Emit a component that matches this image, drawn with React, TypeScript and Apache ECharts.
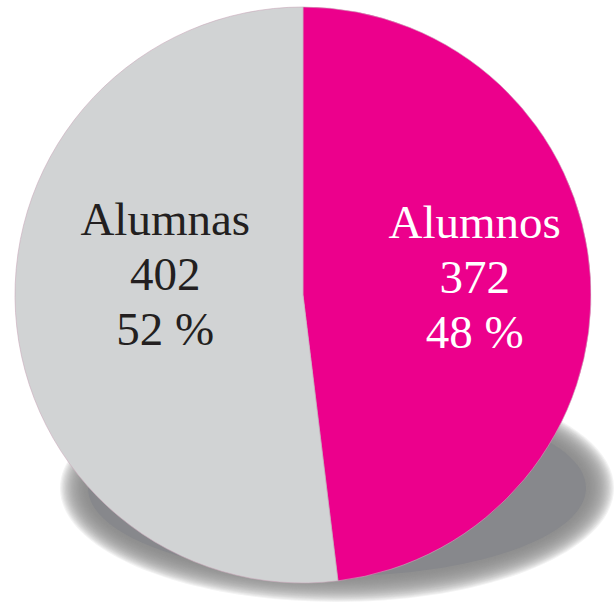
import React, { useEffect, useRef } from "react";
import * as echarts from "echarts";

const categories = ["Alumnos", "Alumnas"];
const values = [372, 402];
const colors = ["#EC008C", "#D1D3D4"];
const labelColors = ["#ffffff", "#231f20"];

export default function App() {
  const ref = useRef<HTMLDivElement>(null);
  useEffect(() => {
    document.body.style.margin = "0";
    const chart = echarts.init(ref.current!, null, { renderer: "svg" });
    const offsets = [
      [25, -9],
      [9, -30],
    ];
    const layers = [];
    const n = 24;
    for (let i = 0; i < n; i++) {
      const t = i / (n - 1);
      layers.push({
        type: "ellipse",
        z: 0,
        silent: true,
        shape: { cx: 337, cy: 488, rx: 277 - 28 * t, ry: 114 - 26 * t },
        style: { fill: "#87888c", opacity: i === n - 1 ? 1 : 0.1 },
      });
    }
    chart.setOption({
      animation: false,
      backgroundColor: "#ffffff",
      graphic: layers,
      series: [
        {
          type: "pie",
          z: 5,
          center: [303, 295],
          radius: 288,
          startAngle: 90,
          clockwise: true,
          percentPrecision: 0,
          label: {
            show: true,
            position: "inside",
            formatter: "{b}\n{c}\n{d} %",
            fontFamily: "Liberation Serif, DejaVu Serif, serif",
            fontSize: 47,
            lineHeight: 55,
            align: "center",
          },
          labelLine: { show: false },
          emphasis: { disabled: true },
          itemStyle: { borderWidth: 0.6, borderColor: "#c9a9bb" },
          data: categories.map((name, i) => ({
            name,
            value: values[i],
            itemStyle: { color: colors[i] },
            label: { color: labelColors[i], offset: offsets[i] },
          })),
        },
      ],
    });
    return () => chart.dispose();
  }, []);
  return <div ref={ref} style={{ width: 614, height: 607 }} />;
}
